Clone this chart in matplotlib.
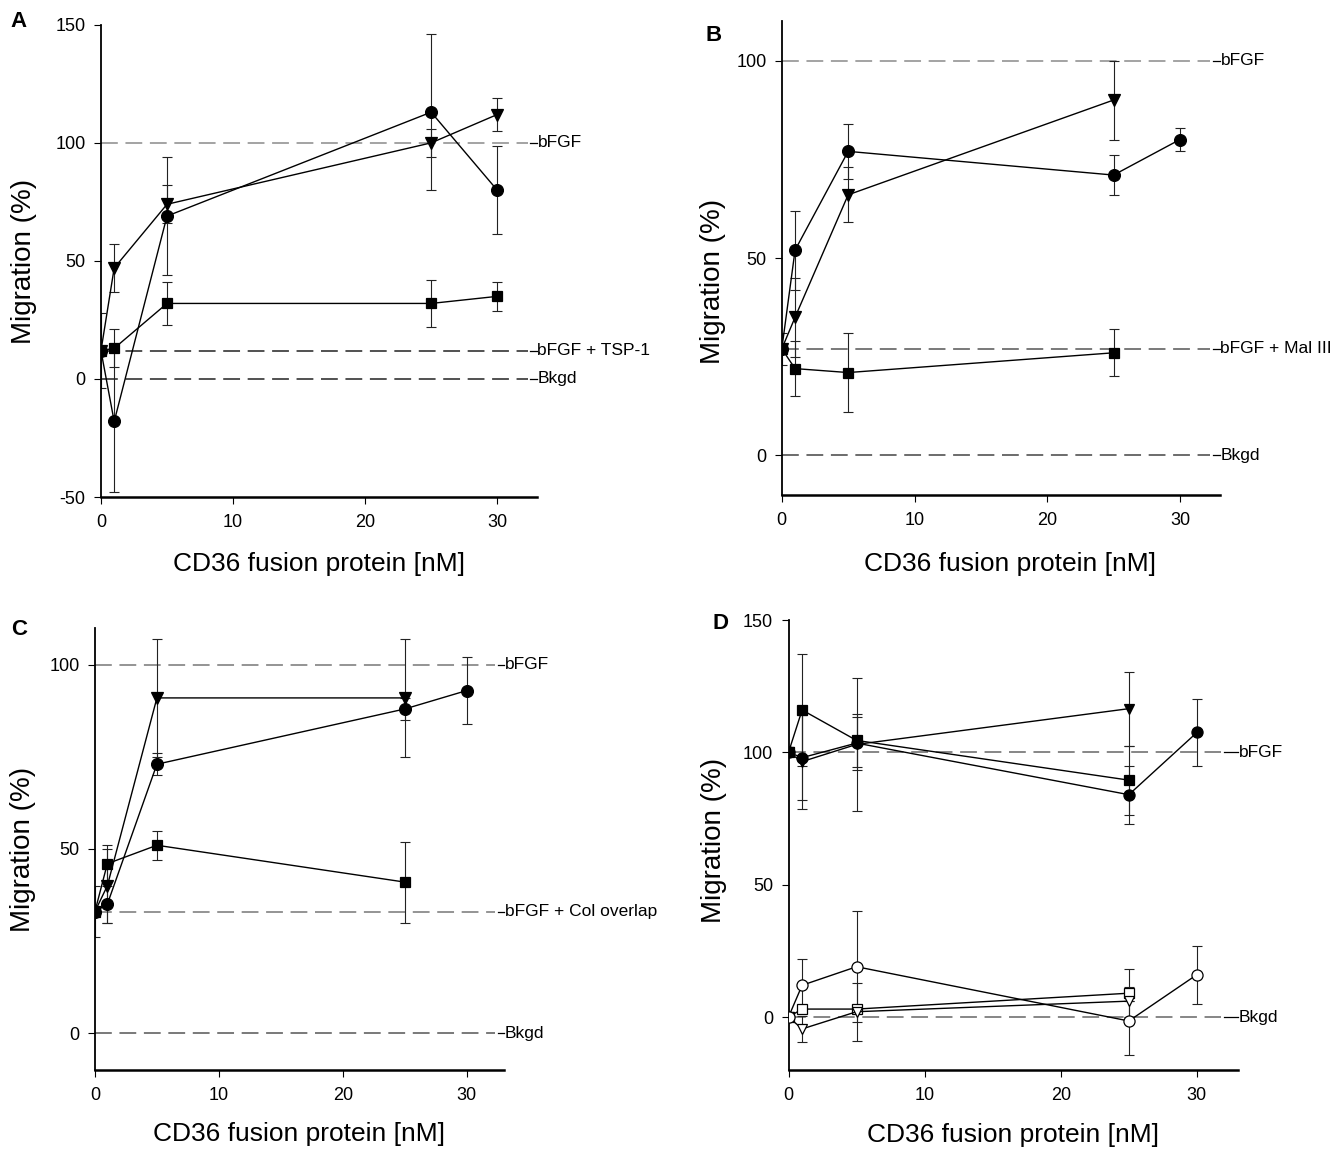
import matplotlib
matplotlib.use('Agg')
import matplotlib.pyplot as plt
import numpy as np

plt.rcParams['font.family'] = ['Liberation Sans', 'DejaVu Sans']
plt.rcParams['axes.unicode_minus'] = False

# ---- data (x in nM, y in % migration) ----
# Panel A
a_circ_x = [0, 1, 5, 25, 30]
a_circ_y = [12, -18, 69, 113, 80]
a_circ_e = [16, 30, 25, 33, 18.5]
a_tri_x = [0, 1, 5, 25, 30]
a_tri_y = [12, 47, 74, 100, 112]
a_tri_e = [0, 10, 8, 6, 7]
a_sq_x = [0, 1, 5, 25, 30]
a_sq_y = [12, 13, 32, 32, 35]
a_sq_e = [0, 8, 9, 10, 6]
a_ref_y = [100, 12, 0]
a_ref_lab = ['bFGF', 'bFGF + TSP-1', 'Bkgd']

# Panel B
b_circ_x = [0, 1, 5, 25, 30]
b_circ_y = [27, 52, 77, 71, 80]
b_circ_e = [4, 10, 7, 5, 3]
b_tri_x = [0, 1, 5, 25]
b_tri_y = [27, 35, 66, 90]
b_tri_e = [0, 10, 7, 10]
b_sq_x = [0, 1, 5, 25]
b_sq_y = [27, 22, 21, 26]
b_sq_e = [0, 7, 10, 6]
b_ref_y = [100, 27, 0]
b_ref_lab = ['bFGF', 'bFGF + Mal III', 'Bkgd']

# Panel C
c_circ_x = [0, 1, 5, 25, 30]
c_circ_y = [33, 35, 73, 88, 93]
c_circ_e = [7, 5, 3, 3, 9]
c_tri_x = [0, 1, 5, 25]
c_tri_y = [33, 40, 91, 91]
c_tri_e = [0, 10, 16, 16]
c_sq_x = [0, 1, 5, 25]
c_sq_y = [33, 46, 51, 41]
c_sq_e = [0, 5, 4, 11]
c_ref_y = [100, 33, 0]
c_ref_lab = ['bFGF', 'bFGF + Col overlap', 'Bkgd']

# Panel D (filled = with bFGF, open = without)
d_circ_x = [0, 1, 5, 25, 30]
d_circ_y = [100, 98, 103.5, 84, 107.5]
d_circ_e = [0, 16, 10, 11, 12.5]
d_tri_x = [0, 1, 5, 25]
d_tri_y = [100, 96.5, 103, 116.5]
d_tri_e = [0, 18, 25, 14]
d_sq_x = [0, 1, 5, 25]
d_sq_y = [100, 116, 104.5, 89.5]
d_sq_e = [0, 21, 10, 13]
d_ocirc_x = [0, 1, 5, 25, 30]
d_ocirc_y = [0, 12, 19, -1.5, 16]
d_ocirc_e = [0, 10, 21, 13, 11]
d_osq_x = [0, 1, 5, 25]
d_osq_y = [0, 3, 3, 9]
d_osq_e = [0, 0, 0, 9]
d_otri_x = [0, 1, 5, 25]
d_otri_y = [0, -4.5, 2, 6]
d_otri_e = [0, 5, 11, 0]
d_ref_y = [100, 0]
d_ref_lab = ['bFGF', 'Bkgd']

xticks = [0, 10, 20, 30]

fig = plt.figure(figsize=(13.41, 11.49), dpi=100)


def series(ax, x, y, e, marker, ms, filled=True):
    face = 'black' if filled else 'white'
    ax.errorbar(x, y, yerr=e, fmt='none', ecolor='#222222', elinewidth=0.8,
                capsize=3.5, capthick=0.8, zorder=2)
    ax.plot(x, y, '-', color='black', lw=1.0, marker=marker, ms=ms,
            mfc=face, mec='black', mew=0.9, zorder=3)


def ref_lines(ax, ys, labels, colors, xend=32.3, xlab=33.0):
    for y, lab, col in zip(ys, labels, colors):
        ax.plot([0, xend], [y, y], color=col, lw=1.1, dashes=(11, 5), zorder=1,
                clip_on=False)
        ax.plot([xend + 0.2, xlab], [y, y], color='black', lw=0.9, zorder=1,
                clip_on=False)
        ax.text(xlab + 0.05, y, lab, ha='left', va='center', fontsize=12.5,
                clip_on=False)


def style_axes(ax, ylim, yticks, letter, lx, ly, ylab_xy, xlab_xy):
    ax.set_xlim(0, 33)
    ax.set_ylim(*ylim)
    ax.set_xticks(xticks)
    ax.set_yticks(yticks)
    ax.spines['top'].set_visible(False)
    ax.spines['right'].set_visible(False)
    ax.spines['left'].set_linewidth(1.3)
    ax.spines['bottom'].set_linewidth(1.8)
    ax.tick_params(axis='both', direction='out', length=5, width=0.8,
                   labelsize=13)
    ax.tick_params(axis='x', pad=7)
    ax.tick_params(axis='y', pad=6)
    ax.set_ylabel('Migration (%)', fontsize=20)
    ax.set_xlabel('CD36 fusion protein [nM]', fontsize=19)
    ax.yaxis.set_label_coords(*ylab_xy)
    ax.xaxis.set_label_coords(*xlab_xy)
    fig.text(lx, ly, letter, fontsize=16, fontweight='bold', ha='left', va='center')


# ---- A ----
axA = fig.add_axes([0.0753, 0.5674, 0.325, 0.411])
ref_lines(axA, a_ref_y, a_ref_lab, ['#8a8a8a', '#222222', '#222222'])
series(axA, a_sq_x, a_sq_y, a_sq_e, 's', 7)
series(axA, a_tri_x, a_tri_y, a_tri_e, 'v', 8)
series(axA, a_circ_x, a_circ_y, a_circ_e, 'o', 8.5)
style_axes(axA, (-50, 150), [-50, 0, 50, 100, 150], 'A', 0.008, 0.981,
           (-0.147, 0.50), (0.5, -0.117))

# ---- B ----
axB = fig.add_axes([0.583, 0.5692, 0.3266, 0.4125])
ref_lines(axB, b_ref_y, b_ref_lab, ['#8a8a8a', '#555555', '#444444'])
series(axB, b_sq_x, b_sq_y, b_sq_e, 's', 7)
series(axB, b_tri_x, b_tri_y, b_tri_e, 'v', 8)
series(axB, b_circ_x, b_circ_y, b_circ_e, 'o', 8.5)
style_axes(axB, (-10, 110), [0, 50, 100], 'B', 0.526, 0.969,
           (-0.128, 0.45), (0.52, -0.12))

# ---- C ----
axC = fig.add_axes([0.0708, 0.0688, 0.305, 0.3847])
ref_lines(axC, c_ref_y, c_ref_lab, ['#777777', '#777777', '#555555'])
series(axC, c_sq_x, c_sq_y, c_sq_e, 's', 7)
series(axC, c_tri_x, c_tri_y, c_tri_e, 'v', 8)
series(axC, c_circ_x, c_circ_y, c_circ_e, 'o', 8.5)
style_axes(axC, (-10, 110), [0, 50, 100], 'C', 0.008, 0.452,
           (-0.144, 0.50), (0.5, -0.117))

# ---- D ----
axD = fig.add_axes([0.588, 0.0688, 0.335, 0.3916])
ref_lines(axD, d_ref_y, d_ref_lab, ['#666666', '#666666'], xend=31.8, xlab=33.0)
series(axD, d_osq_x, d_osq_y, d_osq_e, 's', 6.5, filled=False)
series(axD, d_otri_x, d_otri_y, d_otri_e, 'v', 7, filled=False)
series(axD, d_ocirc_x, d_ocirc_y, d_ocirc_e, 'o', 8, filled=False)
series(axD, d_sq_x, d_sq_y, d_sq_e, 's', 6.5)
series(axD, d_tri_x, d_tri_y, d_tri_e, 'v', 7)
series(axD, d_circ_x, d_circ_y, d_circ_e, 'o', 8)
style_axes(axD, (-20, 150), [0, 50, 100, 150], 'D', 0.531, 0.457,
           (-0.138, 0.51), (0.5, -0.118))

fig.savefig('out.png', dpi=100, facecolor='white')
